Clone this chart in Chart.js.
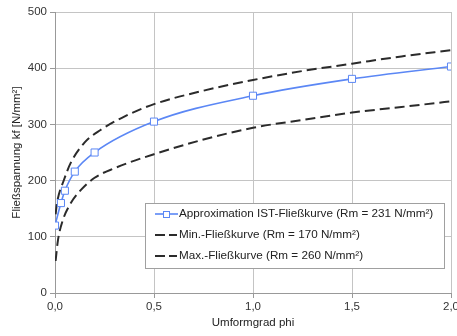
<!DOCTYPE html>
<html>
<head>
<meta charset="utf-8">
<script src="https://cdn.jsdelivr.net/npm/chart.js@4/dist/chart.umd.min.js"></script>
<style>
  html, body { margin: 0; padding: 0; background: #fff; }
  #wrap { width: 457px; height: 336px; position: relative; }
</style>
</head>
<body>
<div id="wrap"><canvas id="chart"></canvas></div>
<script>
// ─── DATA ────────────────────────────────────────────────────
const istPhi = [0, 0.03, 0.05, 0.1, 0.2, 0.5, 1.0, 1.5, 2.0];
const istKf  = [120, 160, 182, 216, 250, 305, 351, 381, 403];

const minPhi = [0.003, 0.015, 0.04, 0.08, 0.13, 0.2, 0.3, 0.5, 0.75, 1.0, 1.25, 1.5, 1.75, 2.0];
const minKf  = [57, 94, 130, 160, 183, 205, 222, 247, 273, 294, 308, 321, 331, 341];

const maxPhi = [0.003, 0.01, 0.045, 0.08, 0.15, 0.23, 0.35, 0.5, 0.75, 1.0, 1.25, 1.5, 1.75, 2.0];
const maxKf  = [140, 160, 201, 232, 268, 290, 314, 336, 360, 379, 395, 408, 421, 432];

const seriesLabels = [
  'Approximation IST-Fließkurve (Rm = 231 N/mm²)',
  'Min.-Fließkurve (Rm = 170 N/mm²)',
  'Max.-Fließkurve (Rm = 260 N/mm²)'
];

const xTicks = [0, 0.5, 1.0, 1.5, 2.0];
const yTicks = [0, 100, 200, 300, 400, 500];

const FONT = 'Liberation Sans, Arial, sans-serif';
const BLUE = '#5b87f5';
const DASH = '#2b2b2b';

const toXY = (xs, ys) => xs.map((x, i) => ({ x, y: ys[i] }));

// legend box drawn inside the plot, lower right
const boxLegend = {
  id: 'boxLegend',
  afterDraw(chart) {
    const ctx = chart.ctx;
    const x0 = 145.5, y0 = 203.5, w = 299, h = 65;
    ctx.save();
    ctx.fillStyle = '#fff';
    ctx.fillRect(x0, y0, w, h);
    ctx.strokeStyle = '#a0a0a0';
    ctx.lineWidth = 1;
    ctx.strokeRect(x0, y0, w, h);

    ctx.font = '11.7px ' + FONT;
    ctx.textBaseline = 'middle';
    const rows = [214, 235, 256];
    chart.data.datasets.forEach((ds, i) => {
      const y = rows[i];
      ctx.strokeStyle = ds.borderColor;
      ctx.lineWidth = ds.borderWidth;
      if (i === 0) {
        ctx.beginPath(); ctx.moveTo(155, y); ctx.lineTo(178, y); ctx.stroke();
        ctx.fillStyle = '#fff';
        ctx.lineWidth = 1;
        ctx.fillRect(163, y - 3, 6, 6);
        ctx.strokeRect(163.5, y - 2.5, 6, 6);
      } else {
        ctx.setLineDash([10, 4]);
        ctx.beginPath(); ctx.moveTo(155, y); ctx.lineTo(177, y); ctx.stroke();
        ctx.setLineDash([]);
      }
      ctx.fillStyle = '#222';
      ctx.fillText(ds.label, 179, y);
    });
    ctx.restore();
  }
};

new Chart(document.getElementById('chart'), {
  type: 'line',
  data: {
    datasets: [
      {
        label: seriesLabels[0],
        data: toXY(istPhi, istKf),
        borderColor: BLUE,
        borderWidth: 1.6,
        backgroundColor: '#fff',
        pointStyle: 'rect',
        pointRadius: 5,
        pointBorderWidth: 1,
        pointBackgroundColor: '#fff',
        pointBorderColor: BLUE,
        cubicInterpolationMode: 'monotone',
        order: 0
      },
      {
        label: seriesLabels[1],
        data: toXY(minPhi, minKf),
        borderColor: DASH,
        borderWidth: 2,
        borderDash: [10, 5],
        pointRadius: 0,
        cubicInterpolationMode: 'monotone',
        order: 1
      },
      {
        label: seriesLabels[2],
        data: toXY(maxPhi, maxKf),
        borderColor: DASH,
        borderWidth: 2,
        borderDash: [10, 5],
        pointRadius: 0,
        cubicInterpolationMode: 'monotone',
        order: 2
      }
    ]
  },
  options: {
    responsive: true,
    maintainAspectRatio: false,
    animation: false,
    layout: { autoPadding: false, padding: { left: 0, right: 6, top: 12, bottom: 0 } },
    plugins: {
      legend: { display: false },
      tooltip: { enabled: false }
    },
    scales: {
      x: {
        type: 'linear',
        min: 0,
        max: 2,
        afterBuildTicks: s => { s.ticks = xTicks.map(v => ({ value: v })); },
        afterFit: s => { s.height = 43; s.paddingLeft = 0; s.paddingRight = 0; },
        grid: { color: '#c4c4c4', tickLength: 5, tickColor: '#999' },
        border: { color: '#999' },
        ticks: {
          color: '#333',
          padding: 2,
          maxRotation: 0,
          font: { family: FONT, size: 11.5 },
          callback: v => v.toFixed(1).replace('.', ',')
        },
        title: {
          display: true,
          text: 'Umformgrad phi',
          color: '#222',
          font: { family: FONT, size: 11.5 },
          padding: { top: 0, bottom: 6 }
        }
      },
      y: {
        min: 0,
        max: 500,
        afterBuildTicks: s => { s.ticks = yTicks.map(v => ({ value: v })); },
        afterFit: s => { s.width = 55; s.paddingTop = 0; s.paddingBottom = 0; },
        grid: { color: '#c4c4c4', tickLength: 5, tickColor: '#999' },
        border: { color: '#999' },
        ticks: {
          color: '#333',
          padding: 3,
          font: { family: FONT, size: 11.5 }
        },
        title: {
          display: true,
          text: 'Fließspannung kf [N/mm²]',
          color: '#222',
          font: { family: FONT, size: 11.5 },
          padding: { top: 10, bottom: 0 }
        }
      }
    }
  },
  plugins: [boxLegend]
});
</script>
</body>
</html>
